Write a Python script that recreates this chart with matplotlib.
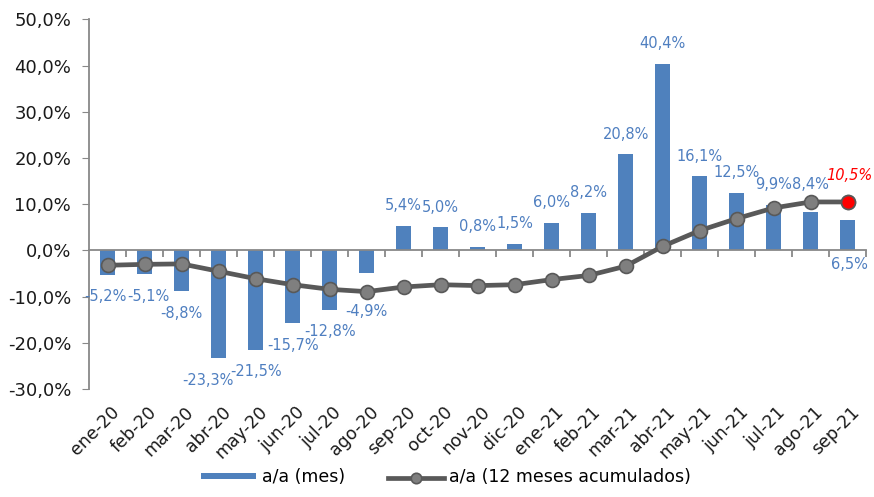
import numpy as np
import matplotlib.pyplot as plt
import matplotlib.ticker as mticker

# datos
meses = ['ene-20', 'feb-20', 'mar-20', 'abr-20', 'may-20', 'jun-20', 'jul-20',
         'ago-20', 'sep-20', 'oct-20', 'nov-20', 'dic-20', 'ene-21', 'feb-21',
         'mar-21', 'abr-21', 'may-21', 'jun-21', 'jul-21', 'ago-21', 'sep-21']
var_mes = [-5.2, -5.1, -8.8, -23.3, -21.5, -15.7, -12.8, -4.9, 5.4, 5.0, 0.8,
           1.5, 6.0, 8.2, 20.8, 40.4, 16.1, 12.5, 9.9, 8.4, 6.5]
var_12m = [-3.2, -3.0, -2.9, -4.5, -6.1, -7.4, -8.4, -8.9, -7.9, -7.4, -7.6,
           -7.4, -6.3, -5.4, -3.4, 0.9, 4.3, 6.9, 9.2, 10.5, 10.5]

# etiquetas que excel dejo movidas (desplazamiento en px)
label_shift = {0: (-2, 0), 1: (4, 0), 3: (-11, 0), 7: (0, 16), 19: (0, -7),
               20: (2, 64)}

blue = '#4f81bd'
lab_blue = '#4f7fc0'
gray_line = '#595959'
PX = 0.72  # px -> pt a 100 dpi

plt.rcParams['font.family'] = 'DejaVu Sans'

fig = plt.figure(figsize=(8.74, 4.97), dpi=100)
ax = fig.add_axes([0.102, 0.217, 0.889, 0.744])

x = np.arange(len(meses))
ax.bar(x, var_mes, width=0.42, color=blue, label='a/a (mes)', zorder=2)
ax.plot(x, var_12m, color=gray_line, lw=3.4, marker='o', markersize=10,
        markerfacecolor='#7f7f7f', markeredgecolor=gray_line,
        markeredgewidth=1.2, label='a/a (12 meses acumulados)', zorder=3)
ax.plot(x[-1], var_12m[-1], 'o', markersize=10, markerfacecolor='#ff0000',
        markeredgecolor=gray_line, markeredgewidth=1.2, zorder=4)

def pct(v):
    return f'{v:.1f}%'.replace('.', ',')

for i, v in enumerate(var_mes):
    dx, dy = label_shift.get(i, (0, 0))
    off = 20 if v > 0 else -22
    ax.annotate(pct(v), xy=(i, v), xytext=(dx * PX, (off - dy) * PX),
                textcoords='offset points', ha='center', va='center',
                color=lab_blue, fontsize=10.5)

ax.annotate(pct(var_12m[-1]), xy=(x[-1], var_12m[-1]), xytext=(1, 19),
            textcoords='offset points', ha='center', va='center',
            color='#ff0000', fontsize=10.5, style='italic')

ax.set_xlim(-0.5, len(meses) - 0.5)
ax.set_ylim(-30, 50)
ax.yaxis.set_major_locator(mticker.MultipleLocator(10))
ax.yaxis.set_major_formatter(mticker.FuncFormatter(lambda v, p: pct(v)))
ax.tick_params(axis='y', direction='out', length=5, color='#888888',
               labelsize=13, labelcolor='#1a1a1a', pad=8)

for s in ['top', 'right']:
    ax.spines[s].set_visible(False)
ax.spines['left'].set_color('#888888')
ax.spines['left'].set_linewidth(1.3)
ax.spines['bottom'].set_position(('data', 0))
ax.spines['bottom'].set_color('#888888')
ax.spines['bottom'].set_linewidth(1.3)
ax.set_xticks([])
ax.set_xticks(np.arange(0.5, len(meses), 1), minor=True)
ax.tick_params(axis='x', which='minor', direction='out', length=5,
               color='#888888', width=1.3, labelbottom=False)

for i, m in enumerate(meses):
    ax.annotate(m, xy=(i, -30), xytext=(2, -10), textcoords='offset points',
                rotation=45, ha='right', va='top', rotation_mode='anchor',
                fontsize=12.5, color='#1a1a1a')

handles, labels = ax.get_legend_handles_labels()
fig.legend(handles[::-1], labels[::-1], loc='lower center',
           bbox_to_anchor=(0.51, -0.01), ncol=2, frameon=False, fontsize=12.5,
           handlelength=3.2, handleheight=0.2, columnspacing=2.5,
           handletextpad=0.3, markerscale=0.75)

fig.savefig('out.png', dpi=100)
